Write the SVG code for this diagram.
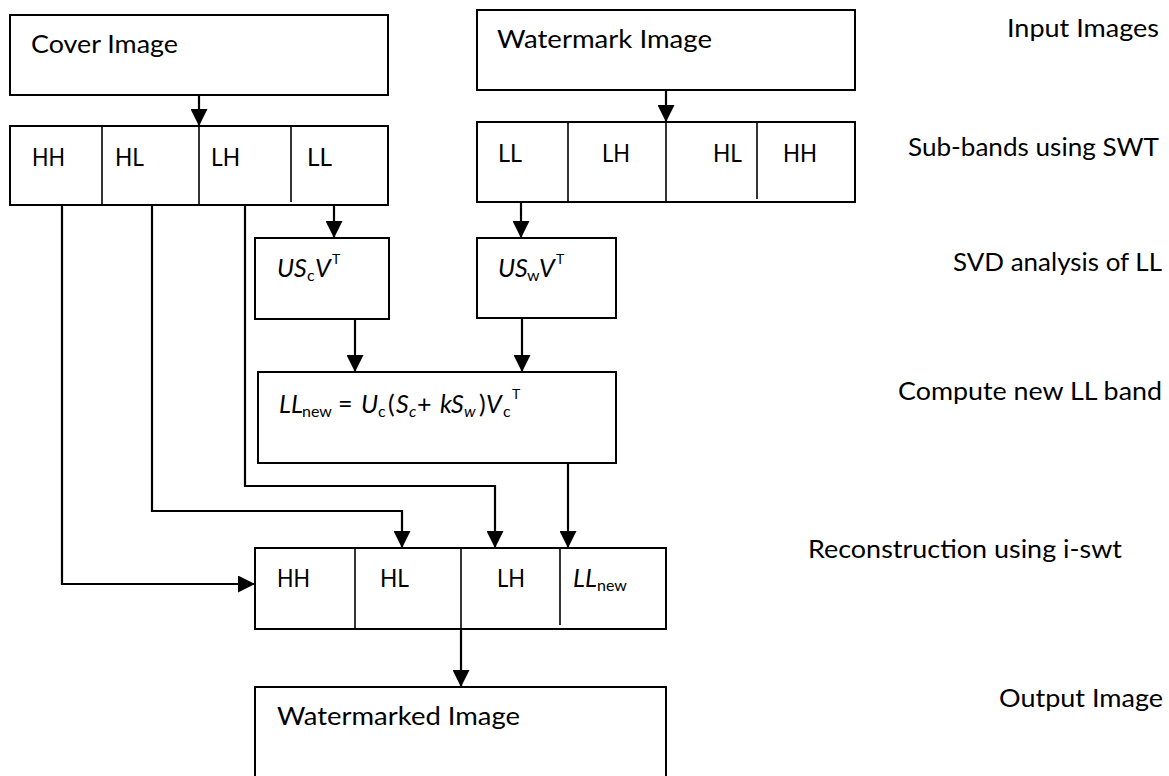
<svg xmlns="http://www.w3.org/2000/svg" width="1169" height="776" viewBox="0 0 1169 776">
<style>
.box{fill:#fff;stroke:#000;stroke-width:2}
.div{stroke:#000;stroke-width:1.6;fill:none}
.con{stroke:#000;stroke-width:2.2;fill:none}
.t{font-family:Lato,"Open Sans","Liberation Sans",sans-serif;font-size:25px;fill:#000}
.i{font-style:italic}
.sub{font-size:16px}
.sup{font-size:14px}
</style>
<defs>
<marker id="ah" markerUnits="userSpaceOnUse" markerWidth="17" markerHeight="17" refX="17" refY="8.5" orient="auto">
<path d="M0,0 L17,8.5 L0,17 z" fill="#000"/>
</marker>
</defs>
<rect width="1169" height="776" fill="#fff"/>

<g id="labels">
<text class="t" x="1007" y="37" textLength="152" lengthAdjust="spacingAndGlyphs">Input Images</text>
<text class="t" x="908" y="156" textLength="251" lengthAdjust="spacingAndGlyphs">Sub-bands using SWT</text>
<text class="t" x="953" y="271" textLength="209" lengthAdjust="spacingAndGlyphs">SVD analysis of LL</text>
<text class="t" x="898" y="400" textLength="264" lengthAdjust="spacingAndGlyphs">Compute new LL band</text>
<text class="t" x="808" y="558" textLength="314" lengthAdjust="spacingAndGlyphs">Reconstruction using i-swt</text>
<text class="t" x="999" y="707" textLength="164" lengthAdjust="spacingAndGlyphs">Output Image</text>
</g>

<g id="connectors">
<line class="con" x1="199" y1="95" x2="199" y2="126" marker-end="url(#ah)"/>
<line class="con" x1="666" y1="90" x2="666" y2="122" marker-end="url(#ah)"/>
<line class="con" x1="334" y1="205" x2="334" y2="238" marker-end="url(#ah)"/>
<line class="con" x1="521" y1="202" x2="521" y2="238" marker-end="url(#ah)"/>
<line class="con" x1="355" y1="319" x2="355" y2="372" marker-end="url(#ah)"/>
<line class="con" x1="522" y1="319" x2="522" y2="372" marker-end="url(#ah)"/>
<polyline class="con" points="62,205 62,584 255,584" marker-end="url(#ah)"/>
<polyline class="con" points="152,205 152,511 402,511 402,548" marker-end="url(#ah)"/>
<polyline class="con" points="245,201 245,486 495,486 495,548" marker-end="url(#ah)"/>
<line class="con" x1="568" y1="463" x2="568" y2="548" marker-end="url(#ah)"/>
<line class="con" x1="461" y1="629" x2="461" y2="687" marker-end="url(#ah)"/>
</g>

<g id="cover">
<rect class="box" x="10" y="15" width="378" height="80"/>
<text class="t" x="31" y="53" textLength="147" lengthAdjust="spacingAndGlyphs">Cover Image</text>
</g>

<g id="watermark">
<rect class="box" x="477" y="10" width="378" height="80"/>
<text class="t" x="497" y="48" textLength="215" lengthAdjust="spacingAndGlyphs">Watermark Image</text>
</g>

<g id="cover-subbands">
<rect class="box" x="10" y="126" width="378" height="79"/>
<line class="div" x1="102" y1="126" x2="102" y2="205"/>
<line class="div" x1="199" y1="126" x2="199" y2="205"/>
<line class="div" x1="291" y1="126" x2="291" y2="202"/>
<text class="t" x="32" y="166" textLength="33" lengthAdjust="spacingAndGlyphs">HH</text>
<text class="t" x="115" y="166" textLength="29" lengthAdjust="spacingAndGlyphs">HL</text>
<text class="t" x="211" y="166" textLength="29" lengthAdjust="spacingAndGlyphs">LH</text>
<text class="t" x="307" y="166" textLength="25" lengthAdjust="spacingAndGlyphs">LL</text>
</g>

<g id="watermark-subbands">
<rect class="box" x="477" y="122" width="378" height="80"/>
<line class="div" x1="568" y1="122" x2="568" y2="202"/>
<line class="div" x1="666" y1="122" x2="666" y2="202"/>
<line class="div" x1="757" y1="122" x2="757" y2="199"/>
<text class="t" x="498" y="162" textLength="24" lengthAdjust="spacingAndGlyphs">LL</text>
<text class="t" x="602" y="162" textLength="28" lengthAdjust="spacingAndGlyphs">LH</text>
<text class="t" x="713" y="162" textLength="29" lengthAdjust="spacingAndGlyphs">HL</text>
<text class="t" x="783" y="162" textLength="34" lengthAdjust="spacingAndGlyphs">HH</text>
</g>

<g id="svd-cover">
<rect class="box" x="255" y="238" width="134" height="81"/>
<text class="t"><tspan class="i" x="277" y="277">U</tspan><tspan class="i" x="294" y="277">S</tspan><tspan class="sub" x="307" y="281">c</tspan><tspan class="i" x="315" y="277">V</tspan><tspan class="sup" x="332" y="264">T</tspan></text>
</g>

<g id="svd-watermark">
<rect class="box" x="477" y="238" width="139" height="80"/>
<text class="t"><tspan class="i" x="498" y="277">U</tspan><tspan class="i" x="515" y="277">S</tspan><tspan class="sub" x="527" y="281">w</tspan><tspan class="i" x="539" y="277">V</tspan><tspan class="sup" x="556" y="264">T</tspan></text>
</g>

<g id="compute">
<rect class="box" x="258" y="372" width="358" height="91"/>
<text class="t"><tspan class="i" x="279" y="413">LL</tspan><tspan class="sub" x="302" y="417">new</tspan><tspan x="338" y="413">=</tspan><tspan class="i" x="361" y="413">U</tspan><tspan class="sub" x="378" y="417">c</tspan><tspan x="388" y="413">(</tspan><tspan class="i" x="396" y="413">S</tspan><tspan class="sub i" x="409" y="417">c</tspan><tspan x="417" y="413">+</tspan><tspan class="i" x="440" y="413">k</tspan><tspan class="i" x="451" y="413">S</tspan><tspan class="sub i" x="464" y="417">w</tspan><tspan x="479" y="413">)</tspan><tspan class="i" x="486" y="413">V</tspan><tspan class="sub" x="503" y="417">c</tspan><tspan class="sup" x="512" y="399">T</tspan></text>
</g>

<g id="reconstruction">
<rect class="box" x="255" y="548" width="411" height="81"/>
<line class="div" x1="355" y1="548" x2="355" y2="629"/>
<line class="div" x1="461" y1="548" x2="461" y2="629"/>
<line class="div" x1="560" y1="548" x2="560" y2="625"/>
<text class="t" x="277" y="587" textLength="33" lengthAdjust="spacingAndGlyphs">HH</text>
<text class="t" x="380" y="587" textLength="29" lengthAdjust="spacingAndGlyphs">HL</text>
<text class="t" x="497" y="587" textLength="28" lengthAdjust="spacingAndGlyphs">LH</text>
<text class="t"><tspan class="i" x="573" y="587">LL</tspan><tspan class="sub" x="597" y="591">new</tspan></text>
</g>

<g id="output">
<rect class="box" x="255" y="687" width="411" height="100"/>
<text class="t" x="277" y="725" textLength="243" lengthAdjust="spacingAndGlyphs">Watermarked Image</text>
</g>
</svg>
